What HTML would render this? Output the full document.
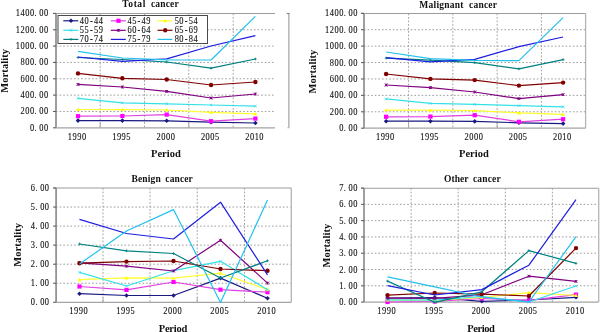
<!DOCTYPE html>
<html><head><meta charset="utf-8"><title>Mortality charts</title>
<style>
html,body{margin:0;padding:0;background:#fff;width:600px;height:332px;overflow:hidden;}
svg{display:block;will-change:transform;font-family:"Liberation Serif", serif;}
</style></head>
<body>
<svg width="600" height="332" viewBox="0 0 600 332">
<rect width="600" height="332" fill="#fff"/>
<line x1="56.00" y1="29.74" x2="274.50" y2="29.74" stroke="#9c9c9c" stroke-width="1" stroke-dasharray="1.6 2"/>
<line x1="56.00" y1="46.09" x2="274.50" y2="46.09" stroke="#9c9c9c" stroke-width="1" stroke-dasharray="1.6 2"/>
<line x1="56.00" y1="62.43" x2="274.50" y2="62.43" stroke="#9c9c9c" stroke-width="1" stroke-dasharray="1.6 2"/>
<line x1="56.00" y1="78.77" x2="274.50" y2="78.77" stroke="#9c9c9c" stroke-width="1" stroke-dasharray="1.6 2"/>
<line x1="56.00" y1="95.11" x2="274.50" y2="95.11" stroke="#9c9c9c" stroke-width="1" stroke-dasharray="1.6 2"/>
<line x1="56.00" y1="111.46" x2="274.50" y2="111.46" stroke="#9c9c9c" stroke-width="1" stroke-dasharray="1.6 2"/>
<line x1="100.20" y1="13.50" x2="100.20" y2="127.80" stroke="#a4a4a4" stroke-width="1" stroke-dasharray="1.8 1.7"/>
<line x1="100.20" y1="122.80" x2="100.20" y2="127.80" stroke="#a8a8a8" stroke-width="1"/>
<line x1="144.50" y1="13.50" x2="144.50" y2="127.80" stroke="#a4a4a4" stroke-width="1" stroke-dasharray="1.8 1.7"/>
<line x1="188.80" y1="13.50" x2="188.80" y2="127.80" stroke="#a4a4a4" stroke-width="1" stroke-dasharray="1.8 1.7"/>
<line x1="188.80" y1="122.80" x2="188.80" y2="127.80" stroke="#a8a8a8" stroke-width="1"/>
<line x1="233.20" y1="13.50" x2="233.20" y2="127.80" stroke="#a4a4a4" stroke-width="1" stroke-dasharray="1.8 1.7"/>
<line x1="53.00" y1="13.50" x2="275.00" y2="13.50" stroke="#9c9c9c" stroke-width="1.1"/>
<line x1="288.85" y1="13.50" x2="288.85" y2="127.80" stroke="#b4b4b4" stroke-width="1.5"/>
<line x1="286.65" y1="13.50" x2="289.65" y2="13.50" stroke="#8a8a8a" stroke-width="1.2"/>
<line x1="287.35" y1="127.80" x2="289.35" y2="127.80" stroke="#b4b4b4" stroke-width="1"/>
<line x1="56.00" y1="127.80" x2="275.00" y2="127.80" stroke="#a4a4a4" stroke-width="1.2"/>
<line x1="56.00" y1="13.50" x2="56.00" y2="127.80" stroke="#8e8e8e" stroke-width="1.7"/>
<line x1="53.00" y1="13.40" x2="56.00" y2="13.40" stroke="#606060" stroke-width="1.1"/>
<text x="18.87 24.46 30.06 35.65 41.21 46.85 52.44" y="16.40" font-size="10" fill="#111111" transform="scale(0.840,1)" stroke="#111111" stroke-width="0.12">1400.00</text>
<line x1="53.00" y1="29.74" x2="56.00" y2="29.74" stroke="#606060" stroke-width="1.1"/>
<text x="18.87 24.46 30.06 35.65 41.21 46.85 52.44" y="32.74" font-size="10" fill="#111111" transform="scale(0.840,1)" stroke="#111111" stroke-width="0.12">1200.00</text>
<line x1="53.00" y1="46.09" x2="56.00" y2="46.09" stroke="#606060" stroke-width="1.1"/>
<text x="18.87 24.46 30.06 35.65 41.21 46.85 52.44" y="49.09" font-size="10" fill="#111111" transform="scale(0.840,1)" stroke="#111111" stroke-width="0.12">1000.00</text>
<line x1="53.00" y1="62.43" x2="56.00" y2="62.43" stroke="#606060" stroke-width="1.1"/>
<text x="24.46 30.06 35.65 41.21 46.85 52.44" y="65.43" font-size="10" fill="#111111" transform="scale(0.840,1)" stroke="#111111" stroke-width="0.12">800.00</text>
<line x1="53.00" y1="78.77" x2="56.00" y2="78.77" stroke="#606060" stroke-width="1.1"/>
<text x="24.46 30.06 35.65 41.21 46.85 52.44" y="81.77" font-size="10" fill="#111111" transform="scale(0.840,1)" stroke="#111111" stroke-width="0.12">600.00</text>
<line x1="53.00" y1="95.11" x2="56.00" y2="95.11" stroke="#606060" stroke-width="1.1"/>
<text x="24.46 30.06 35.65 41.21 46.85 52.44" y="98.11" font-size="10" fill="#111111" transform="scale(0.840,1)" stroke="#111111" stroke-width="0.12">400.00</text>
<line x1="53.00" y1="111.46" x2="56.00" y2="111.46" stroke="#606060" stroke-width="1.1"/>
<text x="24.46 30.06 35.65 41.21 46.85 52.44" y="114.46" font-size="10" fill="#111111" transform="scale(0.840,1)" stroke="#111111" stroke-width="0.12">200.00</text>
<line x1="53.00" y1="127.80" x2="56.00" y2="127.80" stroke="#606060" stroke-width="1.1"/>
<text x="35.65 41.21 46.85 52.44" y="130.80" font-size="10" fill="#111111" transform="scale(0.840,1)" stroke="#111111" stroke-width="0.12">0.00</text>
<text x="80.77 86.37 91.96 97.56" y="140.20" font-size="10" fill="#111111" transform="scale(0.840,1)" stroke="#111111" stroke-width="0.12">1990</text>
<text x="133.57 139.17 144.76 150.36" y="140.20" font-size="10" fill="#111111" transform="scale(0.840,1)" stroke="#111111" stroke-width="0.12">1995</text>
<text x="186.37 191.96 197.56 203.15" y="140.20" font-size="10" fill="#111111" transform="scale(0.840,1)" stroke="#111111" stroke-width="0.12">2000</text>
<text x="239.17 244.76 250.36 255.95" y="140.20" font-size="10" fill="#111111" transform="scale(0.840,1)" stroke="#111111" stroke-width="0.12">2005</text>
<text x="291.96 297.56 303.15 308.75" y="140.20" font-size="10" fill="#111111" transform="scale(0.840,1)" stroke="#111111" stroke-width="0.12">2010</text>
<text x="122.30" y="7.40" font-size="9.5" font-weight="bold" fill="#111111" textLength="23.00" lengthAdjust="spacing">Total</text>
<text x="151.00" y="7.40" font-size="9.5" font-weight="bold" fill="#111111" textLength="27.69" lengthAdjust="spacing">cancer</text>
<text x="151.00" y="156.80" font-size="10.5" font-weight="bold" fill="#111111" textLength="29.81" lengthAdjust="spacing">Period</text>
<g transform="translate(7.50,92.80) rotate(-90)"><text x="0.00" y="0.00" font-size="10.5" font-weight="bold" fill="#111111" textLength="43.90" lengthAdjust="spacing">Mortality</text></g>
<polyline points="78.00,120.60 122.35,120.60 166.70,120.80 211.05,122.20 255.40,123.00" fill="none" stroke="#1a1a80" stroke-width="1.2" stroke-linejoin="round"/>
<path d="M78.00 118.30L80.30 120.60L78.00 122.90L75.70 120.60Z" fill="#1a1a80"/>
<path d="M122.35 118.30L124.65 120.60L122.35 122.90L120.05 120.60Z" fill="#1a1a80"/>
<path d="M166.70 118.50L169.00 120.80L166.70 123.10L164.40 120.80Z" fill="#1a1a80"/>
<path d="M211.05 119.90L213.35 122.20L211.05 124.50L208.75 122.20Z" fill="#1a1a80"/>
<path d="M255.40 120.70L257.70 123.00L255.40 125.30L253.10 123.00Z" fill="#1a1a80"/>
<polyline points="78.00,116.20 122.35,116.00 166.70,114.60 211.05,121.20 255.40,118.60" fill="none" stroke="#e040e0" stroke-width="1.2" stroke-linejoin="round"/>
<rect x="75.90" y="114.10" width="4.20" height="4.20" fill="#ff00ff"/>
<rect x="120.25" y="113.90" width="4.20" height="4.20" fill="#ff00ff"/>
<rect x="164.60" y="112.50" width="4.20" height="4.20" fill="#ff00ff"/>
<rect x="208.95" y="119.10" width="4.20" height="4.20" fill="#ff00ff"/>
<rect x="253.30" y="116.50" width="4.20" height="4.20" fill="#ff00ff"/>
<polyline points="78.00,109.50 122.35,109.60 166.70,110.00 211.05,112.30 255.40,113.80" fill="none" stroke="#ffff30" stroke-width="1.2" stroke-linejoin="round"/>
<path d="M78.00 107.60L79.90 111.02L76.10 111.02Z" fill="#ffff00"/>
<path d="M122.35 107.70L124.25 111.12L120.45 111.12Z" fill="#ffff00"/>
<path d="M166.70 108.10L168.60 111.52L164.80 111.52Z" fill="#ffff00"/>
<path d="M211.05 110.40L212.95 113.82L209.15 113.82Z" fill="#ffff00"/>
<path d="M255.40 111.90L257.30 115.32L253.50 115.32Z" fill="#ffff00"/>
<polyline points="78.00,98.30 122.35,102.80 166.70,103.80 211.05,105.00 255.40,106.20" fill="none" stroke="#33e0e8" stroke-width="1.2" stroke-linejoin="round"/>
<path d="M76.70 97.00L79.30 99.60M79.30 97.00L76.70 99.60" stroke="#33e0e8" stroke-width="0.8"/>
<path d="M121.05 101.50L123.65 104.10M123.65 101.50L121.05 104.10" stroke="#33e0e8" stroke-width="0.8"/>
<path d="M165.40 102.50L168.00 105.10M168.00 102.50L165.40 105.10" stroke="#33e0e8" stroke-width="0.8"/>
<path d="M209.75 103.70L212.35 106.30M212.35 103.70L209.75 106.30" stroke="#33e0e8" stroke-width="0.8"/>
<path d="M254.10 104.90L256.70 107.50M256.70 104.90L254.10 107.50" stroke="#33e0e8" stroke-width="0.8"/>
<polyline points="78.00,84.40 122.35,87.00 166.70,91.40 211.05,98.00 255.40,94.00" fill="none" stroke="#800080" stroke-width="1.2" stroke-linejoin="round"/>
<path d="M76.60 83.00L79.40 85.80M79.40 83.00L76.60 85.80M78.00 83.00L78.00 85.80" stroke="#800080" stroke-width="1"/>
<path d="M120.95 85.60L123.75 88.40M123.75 85.60L120.95 88.40M122.35 85.60L122.35 88.40" stroke="#800080" stroke-width="1"/>
<path d="M165.30 90.00L168.10 92.80M168.10 90.00L165.30 92.80M166.70 90.00L166.70 92.80" stroke="#800080" stroke-width="1"/>
<path d="M209.65 96.60L212.45 99.40M212.45 96.60L209.65 99.40M211.05 96.60L211.05 99.40" stroke="#800080" stroke-width="1"/>
<path d="M254.00 92.60L256.80 95.40M256.80 92.60L254.00 95.40M255.40 92.60L255.40 95.40" stroke="#800080" stroke-width="1"/>
<polyline points="78.00,73.40 122.35,78.30 166.70,79.50 211.05,85.00 255.40,82.00" fill="none" stroke="#800000" stroke-width="1.2" stroke-linejoin="round"/>
<circle cx="78.00" cy="73.40" r="2.20" fill="#800000"/>
<circle cx="122.35" cy="78.30" r="2.20" fill="#800000"/>
<circle cx="166.70" cy="79.50" r="2.20" fill="#800000"/>
<circle cx="211.05" cy="85.00" r="2.20" fill="#800000"/>
<circle cx="255.40" cy="82.00" r="2.20" fill="#800000"/>
<polyline points="78.00,57.50 122.35,59.50 166.70,62.00 211.05,68.20 255.40,59.00" fill="none" stroke="#008080" stroke-width="1.2" stroke-linejoin="round"/>
<path d="M76.60 57.50L79.40 57.50M78.00 56.10L78.00 58.90" stroke="#008080" stroke-width="0.8"/>
<path d="M120.95 59.50L123.75 59.50M122.35 58.10L122.35 60.90" stroke="#008080" stroke-width="0.8"/>
<path d="M165.30 62.00L168.10 62.00M166.70 60.60L166.70 63.40" stroke="#008080" stroke-width="0.8"/>
<path d="M209.65 68.20L212.45 68.20M211.05 66.80L211.05 69.60" stroke="#008080" stroke-width="0.8"/>
<path d="M254.00 59.00L256.80 59.00M255.40 57.60L255.40 60.40" stroke="#008080" stroke-width="0.8"/>
<polyline points="78.00,57.00 122.35,61.30 166.70,58.80 211.05,46.00 255.40,35.60" fill="none" stroke="#1c1ce0" stroke-width="1.2" stroke-linejoin="round"/>





<polyline points="78.00,51.40 122.35,58.00 166.70,59.80 211.05,60.00 255.40,16.40" fill="none" stroke="#22c0ee" stroke-width="1.2" stroke-linejoin="round"/>





<line x1="364.00" y1="29.71" x2="585.10" y2="29.71" stroke="#9c9c9c" stroke-width="1" stroke-dasharray="1.6 2"/>
<line x1="364.00" y1="46.13" x2="585.10" y2="46.13" stroke="#9c9c9c" stroke-width="1" stroke-dasharray="1.6 2"/>
<line x1="364.00" y1="62.54" x2="585.10" y2="62.54" stroke="#9c9c9c" stroke-width="1" stroke-dasharray="1.6 2"/>
<line x1="364.00" y1="78.96" x2="585.10" y2="78.96" stroke="#9c9c9c" stroke-width="1" stroke-dasharray="1.6 2"/>
<line x1="364.00" y1="95.37" x2="585.10" y2="95.37" stroke="#9c9c9c" stroke-width="1" stroke-dasharray="1.6 2"/>
<line x1="364.00" y1="111.79" x2="585.10" y2="111.79" stroke="#9c9c9c" stroke-width="1" stroke-dasharray="1.6 2"/>
<line x1="408.55" y1="13.50" x2="408.55" y2="128.20" stroke="#a4a4a4" stroke-width="1" stroke-dasharray="1.8 1.7"/>
<line x1="408.55" y1="123.20" x2="408.55" y2="128.20" stroke="#a8a8a8" stroke-width="1"/>
<line x1="452.85" y1="13.50" x2="452.85" y2="128.20" stroke="#a4a4a4" stroke-width="1" stroke-dasharray="1.8 1.7"/>
<line x1="497.15" y1="13.50" x2="497.15" y2="128.20" stroke="#a4a4a4" stroke-width="1" stroke-dasharray="1.8 1.7"/>
<line x1="497.15" y1="123.20" x2="497.15" y2="128.20" stroke="#a8a8a8" stroke-width="1"/>
<line x1="541.45" y1="13.50" x2="541.45" y2="128.20" stroke="#a4a4a4" stroke-width="1" stroke-dasharray="1.8 1.7"/>
<line x1="361.00" y1="13.50" x2="585.60" y2="13.50" stroke="#9c9c9c" stroke-width="1.1"/>
<line x1="585.60" y1="13.50" x2="585.60" y2="128.20" stroke="#b4b4b4" stroke-width="1.3"/>
<line x1="364.00" y1="128.20" x2="585.60" y2="128.20" stroke="#a4a4a4" stroke-width="1.2"/>
<line x1="364.00" y1="13.50" x2="364.00" y2="128.20" stroke="#8e8e8e" stroke-width="1.7"/>
<line x1="361.00" y1="13.30" x2="364.00" y2="13.30" stroke="#606060" stroke-width="1.1"/>
<text x="386.96 392.56 398.15 403.75 409.31 414.94 420.54" y="16.30" font-size="10" fill="#111111" transform="scale(0.840,1)" stroke="#111111" stroke-width="0.12">1400.00</text>
<line x1="361.00" y1="29.71" x2="364.00" y2="29.71" stroke="#606060" stroke-width="1.1"/>
<text x="386.96 392.56 398.15 403.75 409.31 414.94 420.54" y="32.71" font-size="10" fill="#111111" transform="scale(0.840,1)" stroke="#111111" stroke-width="0.12">1200.00</text>
<line x1="361.00" y1="46.13" x2="364.00" y2="46.13" stroke="#606060" stroke-width="1.1"/>
<text x="386.96 392.56 398.15 403.75 409.31 414.94 420.54" y="49.13" font-size="10" fill="#111111" transform="scale(0.840,1)" stroke="#111111" stroke-width="0.12">1000.00</text>
<line x1="361.00" y1="62.54" x2="364.00" y2="62.54" stroke="#606060" stroke-width="1.1"/>
<text x="392.56 398.15 403.75 409.31 414.94 420.54" y="65.54" font-size="10" fill="#111111" transform="scale(0.840,1)" stroke="#111111" stroke-width="0.12">800.00</text>
<line x1="361.00" y1="78.96" x2="364.00" y2="78.96" stroke="#606060" stroke-width="1.1"/>
<text x="392.56 398.15 403.75 409.31 414.94 420.54" y="81.96" font-size="10" fill="#111111" transform="scale(0.840,1)" stroke="#111111" stroke-width="0.12">600.00</text>
<line x1="361.00" y1="95.37" x2="364.00" y2="95.37" stroke="#606060" stroke-width="1.1"/>
<text x="392.56 398.15 403.75 409.31 414.94 420.54" y="98.37" font-size="10" fill="#111111" transform="scale(0.840,1)" stroke="#111111" stroke-width="0.12">400.00</text>
<line x1="361.00" y1="111.79" x2="364.00" y2="111.79" stroke="#606060" stroke-width="1.1"/>
<text x="392.56 398.15 403.75 409.31 414.94 420.54" y="114.79" font-size="10" fill="#111111" transform="scale(0.840,1)" stroke="#111111" stroke-width="0.12">200.00</text>
<line x1="361.00" y1="128.20" x2="364.00" y2="128.20" stroke="#606060" stroke-width="1.1"/>
<text x="403.75 409.31 414.94 420.54" y="131.20" font-size="10" fill="#111111" transform="scale(0.840,1)" stroke="#111111" stroke-width="0.12">0.00</text>
<text x="447.56 453.15 458.75 464.35" y="140.40" font-size="10" fill="#111111" transform="scale(0.840,1)" stroke="#111111" stroke-width="0.12">1990</text>
<text x="500.30 505.89 511.49 517.08" y="140.40" font-size="10" fill="#111111" transform="scale(0.840,1)" stroke="#111111" stroke-width="0.12">1995</text>
<text x="553.04 558.63 564.23 569.82" y="140.40" font-size="10" fill="#111111" transform="scale(0.840,1)" stroke="#111111" stroke-width="0.12">2000</text>
<text x="605.65 611.25 616.85 622.44" y="140.40" font-size="10" fill="#111111" transform="scale(0.840,1)" stroke="#111111" stroke-width="0.12">2005</text>
<text x="658.27 663.87 669.46 675.06" y="140.40" font-size="10" fill="#111111" transform="scale(0.840,1)" stroke="#111111" stroke-width="0.12">2010</text>
<text x="419.30" y="7.60" font-size="9.5" font-weight="bold" fill="#111111" textLength="44.20" lengthAdjust="spacing">Malignant</text>
<text x="469.00" y="7.60" font-size="9.5" font-weight="bold" fill="#111111" textLength="27.99" lengthAdjust="spacing">cancer</text>
<text x="459.00" y="156.60" font-size="10.5" font-weight="bold" fill="#111111" textLength="29.81" lengthAdjust="spacing">Period</text>
<g transform="translate(316.00,93.60) rotate(-90)"><text x="0.00" y="0.00" font-size="10.5" font-weight="bold" fill="#111111" textLength="43.90" lengthAdjust="spacing">Mortality</text></g>
<polyline points="386.10,121.20 430.40,121.20 474.70,121.40 518.90,122.80 563.10,123.60" fill="none" stroke="#1a1a80" stroke-width="1.2" stroke-linejoin="round"/>
<path d="M386.10 118.90L388.40 121.20L386.10 123.50L383.80 121.20Z" fill="#1a1a80"/>
<path d="M430.40 118.90L432.70 121.20L430.40 123.50L428.10 121.20Z" fill="#1a1a80"/>
<path d="M474.70 119.10L477.00 121.40L474.70 123.70L472.40 121.40Z" fill="#1a1a80"/>
<path d="M518.90 120.50L521.20 122.80L518.90 125.10L516.60 122.80Z" fill="#1a1a80"/>
<path d="M563.10 121.30L565.40 123.60L563.10 125.90L560.80 123.60Z" fill="#1a1a80"/>
<polyline points="386.10,116.80 430.40,116.60 474.70,115.20 518.90,121.80 563.10,119.20" fill="none" stroke="#e040e0" stroke-width="1.2" stroke-linejoin="round"/>
<rect x="384.00" y="114.70" width="4.20" height="4.20" fill="#ff00ff"/>
<rect x="428.30" y="114.50" width="4.20" height="4.20" fill="#ff00ff"/>
<rect x="472.60" y="113.10" width="4.20" height="4.20" fill="#ff00ff"/>
<rect x="516.80" y="119.70" width="4.20" height="4.20" fill="#ff00ff"/>
<rect x="561.00" y="117.10" width="4.20" height="4.20" fill="#ff00ff"/>
<polyline points="386.10,110.10 430.40,110.20 474.70,110.60 518.90,112.90 563.10,114.40" fill="none" stroke="#ffff30" stroke-width="1.2" stroke-linejoin="round"/>
<path d="M386.10 108.20L388.00 111.62L384.20 111.62Z" fill="#ffff00"/>
<path d="M430.40 108.30L432.30 111.72L428.50 111.72Z" fill="#ffff00"/>
<path d="M474.70 108.70L476.60 112.12L472.80 112.12Z" fill="#ffff00"/>
<path d="M518.90 111.00L520.80 114.42L517.00 114.42Z" fill="#ffff00"/>
<path d="M563.10 112.50L565.00 115.92L561.20 115.92Z" fill="#ffff00"/>
<polyline points="386.10,98.90 430.40,103.40 474.70,104.40 518.90,105.60 563.10,106.80" fill="none" stroke="#33e0e8" stroke-width="1.2" stroke-linejoin="round"/>
<path d="M384.80 97.60L387.40 100.20M387.40 97.60L384.80 100.20" stroke="#33e0e8" stroke-width="0.8"/>
<path d="M429.10 102.10L431.70 104.70M431.70 102.10L429.10 104.70" stroke="#33e0e8" stroke-width="0.8"/>
<path d="M473.40 103.10L476.00 105.70M476.00 103.10L473.40 105.70" stroke="#33e0e8" stroke-width="0.8"/>
<path d="M517.60 104.30L520.20 106.90M520.20 104.30L517.60 106.90" stroke="#33e0e8" stroke-width="0.8"/>
<path d="M561.80 105.50L564.40 108.10M564.40 105.50L561.80 108.10" stroke="#33e0e8" stroke-width="0.8"/>
<polyline points="386.10,85.00 430.40,87.60 474.70,92.00 518.90,98.60 563.10,94.60" fill="none" stroke="#800080" stroke-width="1.2" stroke-linejoin="round"/>
<path d="M384.70 83.60L387.50 86.40M387.50 83.60L384.70 86.40M386.10 83.60L386.10 86.40" stroke="#800080" stroke-width="1"/>
<path d="M429.00 86.20L431.80 89.00M431.80 86.20L429.00 89.00M430.40 86.20L430.40 89.00" stroke="#800080" stroke-width="1"/>
<path d="M473.30 90.60L476.10 93.40M476.10 90.60L473.30 93.40M474.70 90.60L474.70 93.40" stroke="#800080" stroke-width="1"/>
<path d="M517.50 97.20L520.30 100.00M520.30 97.20L517.50 100.00M518.90 97.20L518.90 100.00" stroke="#800080" stroke-width="1"/>
<path d="M561.70 93.20L564.50 96.00M564.50 93.20L561.70 96.00M563.10 93.20L563.10 96.00" stroke="#800080" stroke-width="1"/>
<polyline points="386.10,74.00 430.40,78.90 474.70,80.10 518.90,85.60 563.10,82.60" fill="none" stroke="#800000" stroke-width="1.2" stroke-linejoin="round"/>
<circle cx="386.10" cy="74.00" r="2.20" fill="#800000"/>
<circle cx="430.40" cy="78.90" r="2.20" fill="#800000"/>
<circle cx="474.70" cy="80.10" r="2.20" fill="#800000"/>
<circle cx="518.90" cy="85.60" r="2.20" fill="#800000"/>
<circle cx="563.10" cy="82.60" r="2.20" fill="#800000"/>
<polyline points="386.10,58.10 430.40,60.10 474.70,62.60 518.90,68.80 563.10,59.60" fill="none" stroke="#008080" stroke-width="1.2" stroke-linejoin="round"/>
<path d="M384.70 58.10L387.50 58.10M386.10 56.70L386.10 59.50" stroke="#008080" stroke-width="0.8"/>
<path d="M429.00 60.10L431.80 60.10M430.40 58.70L430.40 61.50" stroke="#008080" stroke-width="0.8"/>
<path d="M473.30 62.60L476.10 62.60M474.70 61.20L474.70 64.00" stroke="#008080" stroke-width="0.8"/>
<path d="M517.50 68.80L520.30 68.80M518.90 67.40L518.90 70.20" stroke="#008080" stroke-width="0.8"/>
<path d="M561.70 59.60L564.50 59.60M563.10 58.20L563.10 61.00" stroke="#008080" stroke-width="0.8"/>
<polyline points="386.10,57.60 430.40,61.90 474.70,59.40 518.90,46.60 563.10,37.00" fill="none" stroke="#1c1ce0" stroke-width="1.2" stroke-linejoin="round"/>





<polyline points="386.10,52.00 430.40,58.60 474.70,60.40 518.90,60.60 563.10,17.60" fill="none" stroke="#22c0ee" stroke-width="1.2" stroke-linejoin="round"/>





<line x1="56.10" y1="207.05" x2="290.80" y2="207.05" stroke="#9c9c9c" stroke-width="1" stroke-dasharray="1.6 2"/>
<line x1="56.10" y1="226.10" x2="290.80" y2="226.10" stroke="#9c9c9c" stroke-width="1" stroke-dasharray="1.6 2"/>
<line x1="56.10" y1="245.15" x2="290.80" y2="245.15" stroke="#9c9c9c" stroke-width="1" stroke-dasharray="1.6 2"/>
<line x1="56.10" y1="264.20" x2="290.80" y2="264.20" stroke="#9c9c9c" stroke-width="1" stroke-dasharray="1.6 2"/>
<line x1="56.10" y1="283.25" x2="290.80" y2="283.25" stroke="#9c9c9c" stroke-width="1" stroke-dasharray="1.6 2"/>
<line x1="103.00" y1="188.00" x2="103.00" y2="302.30" stroke="#a4a4a4" stroke-width="1" stroke-dasharray="1.8 1.7"/>
<line x1="103.00" y1="297.30" x2="103.00" y2="302.30" stroke="#a8a8a8" stroke-width="1"/>
<line x1="150.00" y1="188.00" x2="150.00" y2="302.30" stroke="#a4a4a4" stroke-width="1" stroke-dasharray="1.8 1.7"/>
<line x1="197.20" y1="188.00" x2="197.20" y2="302.30" stroke="#a4a4a4" stroke-width="1" stroke-dasharray="1.8 1.7"/>
<line x1="197.20" y1="297.30" x2="197.20" y2="302.30" stroke="#a8a8a8" stroke-width="1"/>
<line x1="244.50" y1="188.00" x2="244.50" y2="302.30" stroke="#a4a4a4" stroke-width="1" stroke-dasharray="1.8 1.7"/>
<line x1="53.10" y1="188.00" x2="291.30" y2="188.00" stroke="#9c9c9c" stroke-width="1.1"/>
<line x1="291.30" y1="188.00" x2="291.30" y2="302.30" stroke="#b4b4b4" stroke-width="1.3"/>
<line x1="56.10" y1="302.30" x2="291.30" y2="302.30" stroke="#a4a4a4" stroke-width="1.2"/>
<line x1="56.10" y1="188.00" x2="56.10" y2="302.30" stroke="#8e8e8e" stroke-width="1.7"/>
<line x1="53.10" y1="188.00" x2="56.10" y2="188.00" stroke="#606060" stroke-width="1.1"/>
<text x="36.61 42.17 47.80 53.39" y="191.00" font-size="10" fill="#111111" transform="scale(0.840,1)" stroke="#111111" stroke-width="0.12">6.00</text>
<line x1="53.10" y1="207.05" x2="56.10" y2="207.05" stroke="#606060" stroke-width="1.1"/>
<text x="36.61 42.17 47.80 53.39" y="210.05" font-size="10" fill="#111111" transform="scale(0.840,1)" stroke="#111111" stroke-width="0.12">5.00</text>
<line x1="53.10" y1="226.10" x2="56.10" y2="226.10" stroke="#606060" stroke-width="1.1"/>
<text x="36.61 42.17 47.80 53.39" y="229.10" font-size="10" fill="#111111" transform="scale(0.840,1)" stroke="#111111" stroke-width="0.12">4.00</text>
<line x1="53.10" y1="245.15" x2="56.10" y2="245.15" stroke="#606060" stroke-width="1.1"/>
<text x="36.61 42.17 47.80 53.39" y="248.15" font-size="10" fill="#111111" transform="scale(0.840,1)" stroke="#111111" stroke-width="0.12">3.00</text>
<line x1="53.10" y1="264.20" x2="56.10" y2="264.20" stroke="#606060" stroke-width="1.1"/>
<text x="36.61 42.17 47.80 53.39" y="267.20" font-size="10" fill="#111111" transform="scale(0.840,1)" stroke="#111111" stroke-width="0.12">2.00</text>
<line x1="53.10" y1="283.25" x2="56.10" y2="283.25" stroke="#606060" stroke-width="1.1"/>
<text x="36.61 42.17 47.80 53.39" y="286.25" font-size="10" fill="#111111" transform="scale(0.840,1)" stroke="#111111" stroke-width="0.12">1.00</text>
<line x1="53.10" y1="302.30" x2="56.10" y2="302.30" stroke="#606060" stroke-width="1.1"/>
<text x="36.61 42.17 47.80 53.39" y="305.30" font-size="10" fill="#111111" transform="scale(0.840,1)" stroke="#111111" stroke-width="0.12">0.00</text>
<text x="82.56 88.15 93.75 99.35" y="314.00" font-size="10" fill="#111111" transform="scale(0.840,1)" stroke="#111111" stroke-width="0.12">1990</text>
<text x="138.51 144.11 149.70 155.30" y="314.00" font-size="10" fill="#111111" transform="scale(0.840,1)" stroke="#111111" stroke-width="0.12">1995</text>
<text x="194.46 200.06 205.65 211.25" y="314.00" font-size="10" fill="#111111" transform="scale(0.840,1)" stroke="#111111" stroke-width="0.12">2000</text>
<text x="250.42 256.01 261.61 267.20" y="314.00" font-size="10" fill="#111111" transform="scale(0.840,1)" stroke="#111111" stroke-width="0.12">2005</text>
<text x="306.37 311.96 317.56 323.15" y="314.00" font-size="10" fill="#111111" transform="scale(0.840,1)" stroke="#111111" stroke-width="0.12">2010</text>
<text x="131.50" y="181.80" font-size="9.5" font-weight="bold" fill="#111111" textLength="29.21" lengthAdjust="spacing">Benign</text>
<text x="165.30" y="181.80" font-size="9.5" font-weight="bold" fill="#111111" textLength="27.49" lengthAdjust="spacing">cancer</text>
<text x="158.70" y="331.60" font-size="10.5" font-weight="bold" fill="#111111" textLength="28.61" lengthAdjust="spacing">Period</text>
<g transform="translate(21.20,266.80) rotate(-90)"><text x="0.00" y="0.00" font-size="10.5" font-weight="bold" fill="#111111" textLength="43.90" lengthAdjust="spacing">Mortality</text></g>
<polyline points="79.50,293.70 126.50,295.50 173.50,295.50 220.50,278.10 267.50,298.30" fill="none" stroke="#1a1a80" stroke-width="1.2" stroke-linejoin="round"/>
<path d="M79.50 291.40L81.80 293.70L79.50 296.00L77.20 293.70Z" fill="#1a1a80"/>
<path d="M126.50 293.20L128.80 295.50L126.50 297.80L124.20 295.50Z" fill="#1a1a80"/>
<path d="M173.50 293.20L175.80 295.50L173.50 297.80L171.20 295.50Z" fill="#1a1a80"/>
<path d="M220.50 275.80L222.80 278.10L220.50 280.40L218.20 278.10Z" fill="#1a1a80"/>
<path d="M267.50 296.00L269.80 298.30L267.50 300.60L265.20 298.30Z" fill="#1a1a80"/>
<polyline points="79.50,286.50 126.50,289.90 173.50,282.00 220.50,289.70 267.50,292.20" fill="none" stroke="#e040e0" stroke-width="1.2" stroke-linejoin="round"/>
<rect x="77.40" y="284.40" width="4.20" height="4.20" fill="#ff00ff"/>
<rect x="124.40" y="287.80" width="4.20" height="4.20" fill="#ff00ff"/>
<rect x="171.40" y="279.90" width="4.20" height="4.20" fill="#ff00ff"/>
<rect x="218.40" y="287.60" width="4.20" height="4.20" fill="#ff00ff"/>
<rect x="265.40" y="290.10" width="4.20" height="4.20" fill="#ff00ff"/>
<polyline points="79.50,279.70 126.50,277.90 173.50,278.10 220.50,273.20 267.50,289.70" fill="none" stroke="#ffff30" stroke-width="1.2" stroke-linejoin="round"/>
<path d="M79.50 277.80L81.40 281.22L77.60 281.22Z" fill="#ffff00"/>
<path d="M126.50 276.00L128.40 279.42L124.60 279.42Z" fill="#ffff00"/>
<path d="M173.50 276.20L175.40 279.62L171.60 279.62Z" fill="#ffff00"/>
<path d="M220.50 271.30L222.40 274.72L218.60 274.72Z" fill="#ffff00"/>
<path d="M267.50 287.80L269.40 291.22L265.60 291.22Z" fill="#ffff00"/>
<polyline points="79.50,272.30 126.50,286.00 173.50,270.70 220.50,261.30 267.50,289.70" fill="none" stroke="#33e0e8" stroke-width="1.2" stroke-linejoin="round"/>
<path d="M78.20 271.00L80.80 273.60M80.80 271.00L78.20 273.60" stroke="#33e0e8" stroke-width="0.8"/>
<path d="M125.20 284.70L127.80 287.30M127.80 284.70L125.20 287.30" stroke="#33e0e8" stroke-width="0.8"/>
<path d="M172.20 269.40L174.80 272.00M174.80 269.40L172.20 272.00" stroke="#33e0e8" stroke-width="0.8"/>
<path d="M219.20 260.00L221.80 262.60M221.80 260.00L219.20 262.60" stroke="#33e0e8" stroke-width="0.8"/>
<path d="M266.20 288.40L268.80 291.00M268.80 288.40L266.20 291.00" stroke="#33e0e8" stroke-width="0.8"/>
<polyline points="79.50,262.80 126.50,266.20 173.50,271.00 220.50,240.20 267.50,283.10" fill="none" stroke="#800080" stroke-width="1.2" stroke-linejoin="round"/>
<path d="M78.10 261.40L80.90 264.20M80.90 261.40L78.10 264.20M79.50 261.40L79.50 264.20" stroke="#800080" stroke-width="1"/>
<path d="M125.10 264.80L127.90 267.60M127.90 264.80L125.10 267.60M126.50 264.80L126.50 267.60" stroke="#800080" stroke-width="1"/>
<path d="M172.10 269.60L174.90 272.40M174.90 269.60L172.10 272.40M173.50 269.60L173.50 272.40" stroke="#800080" stroke-width="1"/>
<path d="M219.10 238.80L221.90 241.60M221.90 238.80L219.10 241.60M220.50 238.80L220.50 241.60" stroke="#800080" stroke-width="1"/>
<path d="M266.10 281.70L268.90 284.50M268.90 281.70L266.10 284.50M267.50 281.70L267.50 284.50" stroke="#800080" stroke-width="1"/>
<polyline points="79.50,263.20 126.50,261.60 173.50,261.00 220.50,269.00 267.50,270.70" fill="none" stroke="#800000" stroke-width="1.2" stroke-linejoin="round"/>
<circle cx="79.50" cy="263.20" r="2.20" fill="#800000"/>
<circle cx="126.50" cy="261.60" r="2.20" fill="#800000"/>
<circle cx="173.50" cy="261.00" r="2.20" fill="#800000"/>
<circle cx="220.50" cy="269.00" r="2.20" fill="#800000"/>
<circle cx="267.50" cy="270.70" r="2.20" fill="#800000"/>
<polyline points="79.50,244.00 126.50,250.80 173.50,253.50 220.50,278.00 267.50,260.80" fill="none" stroke="#008080" stroke-width="1.2" stroke-linejoin="round"/>
<path d="M78.10 244.00L80.90 244.00M79.50 242.60L79.50 245.40" stroke="#008080" stroke-width="0.8"/>
<path d="M125.10 250.80L127.90 250.80M126.50 249.40L126.50 252.20" stroke="#008080" stroke-width="0.8"/>
<path d="M172.10 253.50L174.90 253.50M173.50 252.10L173.50 254.90" stroke="#008080" stroke-width="0.8"/>
<path d="M219.10 278.00L221.90 278.00M220.50 276.60L220.50 279.40" stroke="#008080" stroke-width="0.8"/>
<path d="M266.10 260.80L268.90 260.80M267.50 259.40L267.50 262.20" stroke="#008080" stroke-width="0.8"/>
<polyline points="79.50,219.40 126.50,233.50 173.50,239.00 220.50,202.20 267.50,274.80" fill="none" stroke="#1c1ce0" stroke-width="1.2" stroke-linejoin="round"/>





<polyline points="79.50,264.00 126.50,231.00 173.50,209.60 220.50,302.50 267.50,200.10" fill="none" stroke="#22c0ee" stroke-width="1.2" stroke-linejoin="round"/>





<line x1="364.00" y1="204.36" x2="598.20" y2="204.36" stroke="#9c9c9c" stroke-width="1" stroke-dasharray="1.6 2"/>
<line x1="364.00" y1="220.65" x2="598.20" y2="220.65" stroke="#9c9c9c" stroke-width="1" stroke-dasharray="1.6 2"/>
<line x1="364.00" y1="236.94" x2="598.20" y2="236.94" stroke="#9c9c9c" stroke-width="1" stroke-dasharray="1.6 2"/>
<line x1="364.00" y1="253.23" x2="598.20" y2="253.23" stroke="#9c9c9c" stroke-width="1" stroke-dasharray="1.6 2"/>
<line x1="364.00" y1="269.52" x2="598.20" y2="269.52" stroke="#9c9c9c" stroke-width="1" stroke-dasharray="1.6 2"/>
<line x1="364.00" y1="285.81" x2="598.20" y2="285.81" stroke="#9c9c9c" stroke-width="1" stroke-dasharray="1.6 2"/>
<line x1="411.10" y1="188.20" x2="411.10" y2="302.10" stroke="#a4a4a4" stroke-width="1" stroke-dasharray="1.8 1.7"/>
<line x1="411.10" y1="297.10" x2="411.10" y2="302.10" stroke="#a8a8a8" stroke-width="1"/>
<line x1="458.20" y1="188.20" x2="458.20" y2="302.10" stroke="#a4a4a4" stroke-width="1" stroke-dasharray="1.8 1.7"/>
<line x1="505.30" y1="188.20" x2="505.30" y2="302.10" stroke="#a4a4a4" stroke-width="1" stroke-dasharray="1.8 1.7"/>
<line x1="505.30" y1="297.10" x2="505.30" y2="302.10" stroke="#a8a8a8" stroke-width="1"/>
<line x1="552.40" y1="188.20" x2="552.40" y2="302.10" stroke="#a4a4a4" stroke-width="1" stroke-dasharray="1.8 1.7"/>
<line x1="361.00" y1="188.20" x2="598.70" y2="188.20" stroke="#9c9c9c" stroke-width="1.1"/>
<line x1="598.70" y1="188.20" x2="598.70" y2="302.10" stroke="#b4b4b4" stroke-width="1.3"/>
<line x1="364.00" y1="302.10" x2="598.70" y2="302.10" stroke="#a4a4a4" stroke-width="1.2"/>
<line x1="364.00" y1="188.20" x2="364.00" y2="302.10" stroke="#8e8e8e" stroke-width="1.7"/>
<line x1="361.00" y1="188.07" x2="364.00" y2="188.07" stroke="#606060" stroke-width="1.1"/>
<text x="403.75 409.31 414.94 420.54" y="191.07" font-size="10" fill="#111111" transform="scale(0.840,1)" stroke="#111111" stroke-width="0.12">7.00</text>
<line x1="361.00" y1="204.36" x2="364.00" y2="204.36" stroke="#606060" stroke-width="1.1"/>
<text x="403.75 409.31 414.94 420.54" y="207.36" font-size="10" fill="#111111" transform="scale(0.840,1)" stroke="#111111" stroke-width="0.12">6.00</text>
<line x1="361.00" y1="220.65" x2="364.00" y2="220.65" stroke="#606060" stroke-width="1.1"/>
<text x="403.75 409.31 414.94 420.54" y="223.65" font-size="10" fill="#111111" transform="scale(0.840,1)" stroke="#111111" stroke-width="0.12">5.00</text>
<line x1="361.00" y1="236.94" x2="364.00" y2="236.94" stroke="#606060" stroke-width="1.1"/>
<text x="403.75 409.31 414.94 420.54" y="239.94" font-size="10" fill="#111111" transform="scale(0.840,1)" stroke="#111111" stroke-width="0.12">4.00</text>
<line x1="361.00" y1="253.23" x2="364.00" y2="253.23" stroke="#606060" stroke-width="1.1"/>
<text x="403.75 409.31 414.94 420.54" y="256.23" font-size="10" fill="#111111" transform="scale(0.840,1)" stroke="#111111" stroke-width="0.12">3.00</text>
<line x1="361.00" y1="269.52" x2="364.00" y2="269.52" stroke="#606060" stroke-width="1.1"/>
<text x="403.75 409.31 414.94 420.54" y="272.52" font-size="10" fill="#111111" transform="scale(0.840,1)" stroke="#111111" stroke-width="0.12">2.00</text>
<line x1="361.00" y1="285.81" x2="364.00" y2="285.81" stroke="#606060" stroke-width="1.1"/>
<text x="403.75 409.31 414.94 420.54" y="288.81" font-size="10" fill="#111111" transform="scale(0.840,1)" stroke="#111111" stroke-width="0.12">1.00</text>
<line x1="361.00" y1="302.10" x2="364.00" y2="302.10" stroke="#606060" stroke-width="1.1"/>
<text x="403.75 409.31 414.94 420.54" y="305.10" font-size="10" fill="#111111" transform="scale(0.840,1)" stroke="#111111" stroke-width="0.12">0.00</text>
<text x="449.23 454.82 460.42 466.01" y="314.20" font-size="10" fill="#111111" transform="scale(0.840,1)" stroke="#111111" stroke-width="0.12">1990</text>
<text x="505.42 511.01 516.61 522.20" y="314.20" font-size="10" fill="#111111" transform="scale(0.840,1)" stroke="#111111" stroke-width="0.12">1995</text>
<text x="561.49 567.08 572.68 578.27" y="314.20" font-size="10" fill="#111111" transform="scale(0.840,1)" stroke="#111111" stroke-width="0.12">2000</text>
<text x="617.56 623.15 628.75 634.35" y="314.20" font-size="10" fill="#111111" transform="scale(0.840,1)" stroke="#111111" stroke-width="0.12">2005</text>
<text x="673.63 679.23 684.82 690.42" y="314.20" font-size="10" fill="#111111" transform="scale(0.840,1)" stroke="#111111" stroke-width="0.12">2010</text>
<text x="444.10" y="181.50" font-size="9.5" font-weight="bold" fill="#111111" textLength="24.29" lengthAdjust="spacing">Other</text>
<text x="473.00" y="181.50" font-size="9.5" font-weight="bold" fill="#111111" textLength="27.69" lengthAdjust="spacing">cancer</text>
<text x="467.30" y="331.60" font-size="10.5" font-weight="bold" fill="#111111" textLength="27.61" lengthAdjust="spacing">Period</text>
<g transform="translate(329.50,267.60) rotate(-90)"><text x="0.00" y="0.00" font-size="10.5" font-weight="bold" fill="#111111" textLength="43.90" lengthAdjust="spacing">Mortality</text></g>
<polyline points="387.50,298.00 434.70,297.50 481.80,301.30 528.90,300.00 576.00,297.30" fill="none" stroke="#1a1a80" stroke-width="1.2" stroke-linejoin="round"/>
<path d="M387.50 295.70L389.80 298.00L387.50 300.30L385.20 298.00Z" fill="#1a1a80"/>
<path d="M434.70 295.20L437.00 297.50L434.70 299.80L432.40 297.50Z" fill="#1a1a80"/>
<path d="M481.80 299.00L484.10 301.30L481.80 303.60L479.50 301.30Z" fill="#1a1a80"/>
<path d="M528.90 297.70L531.20 300.00L528.90 302.30L526.60 300.00Z" fill="#1a1a80"/>
<path d="M576.00 295.00L578.30 297.30L576.00 299.60L573.70 297.30Z" fill="#1a1a80"/>
<polyline points="387.50,302.00 434.70,301.50 481.80,298.50 528.90,300.30 576.00,294.60" fill="none" stroke="#e040e0" stroke-width="1.2" stroke-linejoin="round"/>
<rect x="385.40" y="299.90" width="4.20" height="4.20" fill="#ff00ff"/>
<rect x="432.60" y="299.40" width="4.20" height="4.20" fill="#ff00ff"/>
<rect x="479.70" y="296.40" width="4.20" height="4.20" fill="#ff00ff"/>
<rect x="526.80" y="298.20" width="4.20" height="4.20" fill="#ff00ff"/>
<rect x="573.90" y="292.50" width="4.20" height="4.20" fill="#ff00ff"/>
<polyline points="387.50,300.00 434.70,300.50 481.80,297.50 528.90,292.60 576.00,295.50" fill="none" stroke="#ffff30" stroke-width="1.2" stroke-linejoin="round"/>
<path d="M387.50 298.10L389.40 301.52L385.60 301.52Z" fill="#ffff00"/>
<path d="M434.70 298.60L436.60 302.02L432.80 302.02Z" fill="#ffff00"/>
<path d="M481.80 295.60L483.70 299.02L479.90 299.02Z" fill="#ffff00"/>
<path d="M528.90 290.70L530.80 294.12L527.00 294.12Z" fill="#ffff00"/>
<path d="M576.00 293.60L577.90 297.02L574.10 297.02Z" fill="#ffff00"/>
<polyline points="387.50,299.80 434.70,300.20 481.80,296.50 528.90,302.00 576.00,286.00" fill="none" stroke="#33e0e8" stroke-width="1.2" stroke-linejoin="round"/>
<path d="M386.20 298.50L388.80 301.10M388.80 298.50L386.20 301.10" stroke="#33e0e8" stroke-width="0.8"/>
<path d="M433.40 298.90L436.00 301.50M436.00 298.90L433.40 301.50" stroke="#33e0e8" stroke-width="0.8"/>
<path d="M480.50 295.20L483.10 297.80M483.10 295.20L480.50 297.80" stroke="#33e0e8" stroke-width="0.8"/>
<path d="M527.60 300.70L530.20 303.30M530.20 300.70L527.60 303.30" stroke="#33e0e8" stroke-width="0.8"/>
<path d="M574.70 284.70L577.30 287.30M577.30 284.70L574.70 287.30" stroke="#33e0e8" stroke-width="0.8"/>
<polyline points="387.50,298.20 434.70,298.30 481.80,294.80 528.90,276.20 576.00,281.40" fill="none" stroke="#800080" stroke-width="1.2" stroke-linejoin="round"/>
<path d="M386.10 296.80L388.90 299.60M388.90 296.80L386.10 299.60M387.50 296.80L387.50 299.60" stroke="#800080" stroke-width="1"/>
<path d="M433.30 296.90L436.10 299.70M436.10 296.90L433.30 299.70M434.70 296.90L434.70 299.70" stroke="#800080" stroke-width="1"/>
<path d="M480.40 293.40L483.20 296.20M483.20 293.40L480.40 296.20M481.80 293.40L481.80 296.20" stroke="#800080" stroke-width="1"/>
<path d="M527.50 274.80L530.30 277.60M530.30 274.80L527.50 277.60M528.90 274.80L528.90 277.60" stroke="#800080" stroke-width="1"/>
<path d="M574.60 280.00L577.40 282.80M577.40 280.00L574.60 282.80M576.00 280.00L576.00 282.80" stroke="#800080" stroke-width="1"/>
<polyline points="387.50,295.10 434.70,293.00 481.80,294.10 528.90,296.00 576.00,248.10" fill="none" stroke="#800000" stroke-width="1.2" stroke-linejoin="round"/>
<circle cx="387.50" cy="295.10" r="2.20" fill="#800000"/>
<circle cx="434.70" cy="293.00" r="2.20" fill="#800000"/>
<circle cx="481.80" cy="294.10" r="2.20" fill="#800000"/>
<circle cx="528.90" cy="296.00" r="2.20" fill="#800000"/>
<circle cx="576.00" cy="248.10" r="2.20" fill="#800000"/>
<polyline points="387.50,281.10 434.70,302.30 481.80,291.80 528.90,250.60 576.00,263.40" fill="none" stroke="#008080" stroke-width="1.2" stroke-linejoin="round"/>
<path d="M386.10 281.10L388.90 281.10M387.50 279.70L387.50 282.50" stroke="#008080" stroke-width="0.8"/>
<path d="M433.30 302.30L436.10 302.30M434.70 300.90L434.70 303.70" stroke="#008080" stroke-width="0.8"/>
<path d="M480.40 291.80L483.20 291.80M481.80 290.40L481.80 293.20" stroke="#008080" stroke-width="0.8"/>
<path d="M527.50 250.60L530.30 250.60M528.90 249.20L528.90 252.00" stroke="#008080" stroke-width="0.8"/>
<path d="M574.60 263.40L577.40 263.40M576.00 262.00L576.00 264.80" stroke="#008080" stroke-width="0.8"/>
<polyline points="387.50,285.60 434.70,295.00 481.80,289.60 528.90,265.20 576.00,199.70" fill="none" stroke="#1c1ce0" stroke-width="1.2" stroke-linejoin="round"/>





<polyline points="387.50,276.90 434.70,286.90 481.80,297.00 528.90,302.00 576.00,236.70" fill="none" stroke="#22c0ee" stroke-width="1.2" stroke-linejoin="round"/>





<rect x="58.00" y="15.50" width="149.50" height="28.00" fill="#fff" stroke="#4a4a4a" stroke-width="1"/>
<line x1="63.30" y1="20.80" x2="78.30" y2="20.80" stroke="#1a1a80" stroke-width="1.2"/>
<path d="M71.00 18.50L73.30 20.80L71.00 23.10L68.70 20.80Z" fill="#1a1a80"/>
<text x="95.06 100.65 107.08 111.85 117.44" y="23.80" font-size="10" fill="#111111" transform="scale(0.840,1)" stroke="#111111" stroke-width="0.12">40-44</text>
<line x1="110.80" y1="20.80" x2="125.80" y2="20.80" stroke="#e040e0" stroke-width="1.2"/>
<rect x="116.40" y="18.70" width="4.20" height="4.20" fill="#ff00ff"/>
<text x="151.73 157.32 163.75 168.51 174.11" y="23.80" font-size="10" fill="#111111" transform="scale(0.840,1)" stroke="#111111" stroke-width="0.12">45-49</text>
<line x1="157.50" y1="20.80" x2="172.50" y2="20.80" stroke="#ffff30" stroke-width="1.2"/>
<path d="M165.20 18.90L167.10 22.32L163.30 22.32Z" fill="#ffff00"/>
<text x="207.92 213.51 219.94 224.70 230.30" y="23.80" font-size="10" fill="#111111" transform="scale(0.840,1)" stroke="#111111" stroke-width="0.12">50-54</text>
<line x1="63.30" y1="30.30" x2="78.30" y2="30.30" stroke="#33e0e8" stroke-width="1.2"/>
<path d="M69.70 29.00L72.30 31.60M72.30 29.00L69.70 31.60" stroke="#33e0e8" stroke-width="0.8"/>
<text x="95.06 100.65 107.08 111.85 117.44" y="33.30" font-size="10" fill="#111111" transform="scale(0.840,1)" stroke="#111111" stroke-width="0.12">55-59</text>
<line x1="110.80" y1="30.30" x2="125.80" y2="30.30" stroke="#800080" stroke-width="1.2"/>
<path d="M117.10 28.90L119.90 31.70M119.90 28.90L117.10 31.70M118.50 28.90L118.50 31.70" stroke="#800080" stroke-width="1"/>
<text x="151.73 157.32 163.75 168.51 174.11" y="33.30" font-size="10" fill="#111111" transform="scale(0.840,1)" stroke="#111111" stroke-width="0.12">60-64</text>
<line x1="157.50" y1="30.30" x2="172.50" y2="30.30" stroke="#800000" stroke-width="1.2"/>
<circle cx="165.20" cy="30.30" r="2.20" fill="#800000"/>
<text x="207.92 213.51 219.94 224.70 230.30" y="33.30" font-size="10" fill="#111111" transform="scale(0.840,1)" stroke="#111111" stroke-width="0.12">65-69</text>
<line x1="63.30" y1="39.40" x2="78.30" y2="39.40" stroke="#008080" stroke-width="1.2"/>
<path d="M69.60 39.40L72.40 39.40M71.00 38.00L71.00 40.80" stroke="#008080" stroke-width="0.8"/>
<text x="95.06 100.65 107.08 111.85 117.44" y="42.40" font-size="10" fill="#111111" transform="scale(0.840,1)" stroke="#111111" stroke-width="0.12">70-74</text>
<line x1="110.80" y1="39.40" x2="125.80" y2="39.40" stroke="#1c1ce0" stroke-width="1.2"/>

<text x="151.73 157.32 163.75 168.51 174.11" y="42.40" font-size="10" fill="#111111" transform="scale(0.840,1)" stroke="#111111" stroke-width="0.12">75-79</text>
<line x1="157.50" y1="39.40" x2="172.50" y2="39.40" stroke="#22c0ee" stroke-width="1.2"/>

<text x="207.92 213.51 219.94 224.70 230.30" y="42.40" font-size="10" fill="#111111" transform="scale(0.840,1)" stroke="#111111" stroke-width="0.12">80-84</text>
</svg>
</body></html>
